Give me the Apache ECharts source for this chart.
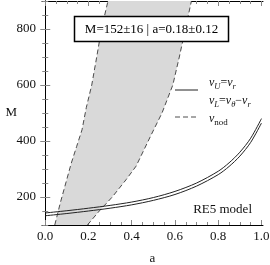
<!DOCTYPE html>
<html><head><meta charset="utf-8">
<script src="https://cdn.jsdelivr.net/npm/echarts@6/dist/echarts.min.js"></script>
<style>html,body{margin:0;padding:0;background:#fff}#c{width:270px;height:265px}</style>
</head><body><div id="c"></div>
<script>
// spin grid and the two resonance curves (nu_U = nu_r and nu_L = nu_theta - nu_r)
const spinA = [0, 0.1, 0.2, 0.3, 0.4, 0.5, 0.6, 0.7, 0.8, 0.85, 0.9, 0.95, 1.0];
const massU = [143, 151, 160, 170, 182, 198, 220, 250, 292, 322, 360, 410, 480];
const massL = [133, 141, 150, 160, 172, 188, 209, 239, 280, 309, 346, 395, 464];
// nodal precession band boundaries
const nodLeftM = [100, 180, 250, 320, 380, 440, 520, 600, 700, 800, 900];
const nodLeftA = [0.044, 0.07, 0.095, 0.12, 0.145, 0.17, 0.19, 0.215, 0.238, 0.26, 0.29];
const nodRightM = [100, 150, 200, 263, 310, 422, 500, 600, 700, 800, 900];
const nodRightA = [0.195, 0.25, 0.31, 0.375, 0.42, 0.49, 0.54, 0.59, 0.62, 0.648, 0.676];
// ticks
const xTicks = [0, 0.2, 0.4, 0.6, 0.8, 1.0];
const xMinorTicks = [0, 0.05, 0.1, 0.15, 0.2, 0.25, 0.3, 0.35, 0.4, 0.45, 0.5, 0.55, 0.6, 0.65, 0.7, 0.75, 0.8, 0.85, 0.9, 0.95, 1.0];
const yTicks = [200, 400, 600, 800];
const yMinorTicks = [100, 150, 200, 250, 300, 350, 400, 450, 500, 550, 600, 650, 700, 750, 800, 850, 900];
const boxText = 'M=152±16 | a=0.18±0.12';
const modelText = 'RE5 model';

const SERIF = '"Liberation Serif", "Times New Roman", serif';
const X_MIN = -0.015, X_MAX = 1.007, Y_MIN = 100, Y_MAX = 900;

function pairs(xs, ys) { return xs.map((x, i) => [x, ys[i]]); }
const bandPoly = pairs(nodLeftA, nodLeftM).concat(pairs(nodRightA, nodRightM).reverse());

function xAx(pos, vals, len, showLine, showLabel) {
  return {
    type: 'value', position: pos, min: X_MIN, max: X_MAX,
    axisLine: { show: showLine, lineStyle: { color: '#000', width: 1 } },
    axisTick: { show: true, inside: true, length: len, customValues: vals, lineStyle: { color: '#888', width: 1 } },
    axisLabel: showLabel ? { show: true, customValues: xTicks, margin: 5, fontFamily: SERIF, fontSize: 13, color: '#111',
      formatter: v => v.toFixed(1) } : { show: false },
    splitLine: { show: false },
    name: showLabel ? 'a' : '', nameLocation: 'middle', nameGap: 27, nameMoveOverlap: false,
    nameTextStyle: { fontFamily: SERIF, fontSize: 13, color: '#111' }
  };
}
function yAx(pos, vals, len, showLine, showLabel) {
  return {
    type: 'value', position: pos, min: Y_MIN, max: Y_MAX,
    axisLine: { show: showLine, lineStyle: { color: '#000', width: 1 } },
    axisTick: { show: true, inside: true, length: len, customValues: vals, lineStyle: { color: '#888', width: 1 } },
    axisLabel: showLabel ? { show: true, customValues: yTicks, margin: 6, fontFamily: SERIF, fontSize: 13, color: '#111' } : { show: false },
    splitLine: { show: false },
    name: showLabel ? 'M' : '', nameLocation: 'middle', nameRotate: 0, nameGap: 25, nameMoveOverlap: false,
    nameTextStyle: { fontFamily: SERIF, fontSize: 13, color: '#111' }
  };
}

const chart = echarts.init(document.getElementById('c'), null, { renderer: 'canvas' });
chart.setOption({
  animation: false,
  grid: { left: 42, right: 7, top: 1, bottom: 40, containLabel: false, outerBoundsMode: 'none' },
  xAxis: [
    xAx('bottom', xTicks, 5, true, true),
    xAx('bottom', xMinorTicks, 3, false, false),
    xAx('top', xTicks, 5, true, false),
    xAx('top', xMinorTicks, 3, false, false)
  ],
  yAxis: [
    yAx('left', yTicks, 5, true, true),
    yAx('left', yMinorTicks, 3, false, false),
    yAx('right', yTicks, 5, true, false),
    yAx('right', yMinorTicks, 3, false, false)
  ],
  series: [
    {
      type: 'custom', xAxisIndex: 0, yAxisIndex: 0, clip: true, z: 1,
      data: bandPoly,
      renderItem: function (params, api) {
        if (params.dataIndex !== 0) return null;
        const pts = bandPoly.map(p => api.coord(p));
        return { type: 'polygon', shape: { points: pts }, style: { fill: '#d9d9d9', stroke: null } };
      }
    },
    {
      type: 'line', xAxisIndex: 0, yAxisIndex: 0, data: pairs(nodLeftA, nodLeftM), symbol: 'none', clip: true, z: 3,
      lineStyle: { color: '#222', width: 0.8, type: [5, 3] }
    },
    {
      type: 'line', xAxisIndex: 0, yAxisIndex: 0, data: pairs(nodRightA, nodRightM), symbol: 'none', clip: true, z: 3,
      lineStyle: { color: '#222', width: 0.8, type: [5, 3] }
    },
    {
      type: 'line', xAxisIndex: 0, yAxisIndex: 0, data: pairs(spinA, massU), symbol: 'none', smooth: 0.3, clip: true, z: 4,
      lineStyle: { color: '#222', width: 1 }
    },
    {
      type: 'line', xAxisIndex: 0, yAxisIndex: 0, data: pairs(spinA, massL), symbol: 'none', smooth: 0.3, clip: true, z: 4,
      lineStyle: { color: '#222', width: 1 }
    }
  ],
  graphic: [
    { type: 'rect', z: 100, shape: { x: 74.5, y: 16.5, width: 154, height: 25 }, style: { fill: '#fff', stroke: '#000', lineWidth: 1.5 } },
    { type: 'text', z: 101, x: 151.5, y: 29.5, style: { text: boxText, font: '13px ' + SERIF, fill: '#000', align: 'center', verticalAlign: 'middle' } },
    { type: 'text', z: 101, x: 252, y: 210, style: { text: modelText, font: '13px ' + SERIF, fill: '#111', align: 'right', verticalAlign: 'middle' } },
    { type: 'line', z: 101, shape: { x1: 175, y1: 90, x2: 198, y2: 90 }, style: { stroke: '#222', lineWidth: 1 } },
    { type: 'line', z: 101, shape: { x1: 175, y1: 117, x2: 198, y2: 117 }, style: { stroke: '#222', lineWidth: 0.8, lineDash: [5, 3] } },
    { type: 'text', z: 101, x: 209, y: 75, style: {
        text: '{v|ν}{s|U}{n|=}{v|ν}{s|r}',
        rich: {
          v: { fontFamily: SERIF, fontSize: 12, fontStyle: 'italic', fill: '#111', lineHeight: 16, verticalAlign: 'middle' },
          n: { fontFamily: SERIF, fontSize: 12, fill: '#111', lineHeight: 16, verticalAlign: 'middle' },
          s: { fontFamily: SERIF, fontSize: 8.5, fontStyle: 'italic', fill: '#111', lineHeight: 16, verticalAlign: 'bottom' }
        } } },
    { type: 'text', z: 101, x: 209, y: 93, style: {
        text: '{v|ν}{s|L}{n|=}{v|ν}{s|θ}{n|−}{v|ν}{s|r}',
        rich: {
          v: { fontFamily: SERIF, fontSize: 12, fontStyle: 'italic', fill: '#111', lineHeight: 16, verticalAlign: 'middle' },
          n: { fontFamily: SERIF, fontSize: 12, fill: '#111', lineHeight: 16, verticalAlign: 'middle' },
          s: { fontFamily: SERIF, fontSize: 8.5, fontStyle: 'italic', fill: '#111', lineHeight: 16, verticalAlign: 'bottom' }
        } } },
    { type: 'text', z: 101, x: 209, y: 111, style: {
        text: '{v|ν}{s|nod}',
        rich: {
          v: { fontFamily: SERIF, fontSize: 12, fontStyle: 'italic', fill: '#111', lineHeight: 16, verticalAlign: 'middle' },
          s: { fontFamily: SERIF, fontSize: 9, fill: '#111', lineHeight: 16, verticalAlign: 'bottom' }
        } } }
  ]
});
</script></body></html>
